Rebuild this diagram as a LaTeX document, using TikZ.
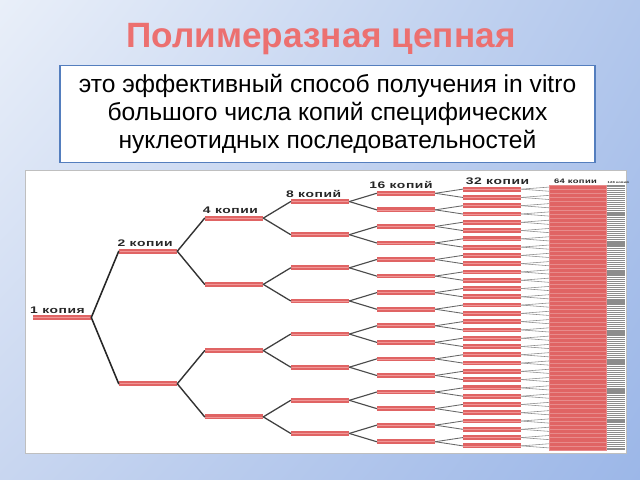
\documentclass[tikz,border=0pt]{standalone}
\usepackage{fontspec}
\setmainfont{Liberation Sans}
\newfontfamily\lblfont{Liberation Sans}[FakeStretch=1.45, LetterSpace=6]
\usetikzlibrary{positioning, shadings}

\definecolor{bgtl}{RGB}{233,239,249}
\definecolor{bgtr}{RGB}{178,199,236}
\definecolor{bgbl}{RGB}{200,214,240}
\definecolor{bgbr}{RGB}{156,183,232}
\definecolor{titlered}{RGB}{236,112,112}
\definecolor{boxblue}{RGB}{84,126,190}
\definecolor{barred}{RGB}{224,100,100}
\definecolor{barlight}{RGB}{240,150,150}

\begin{document}
\begin{tikzpicture} [ x=0.025cm
                    , y=-0.025cm
                    , bar/.style={ fill=barred, inner sep=0pt
                                 , minimum width=1.45cm, minimum height=0.12cm
                                 , path picture={\draw [barlight, line width=0.45pt]
                                     (path picture bounding box.west) -- (path picture bounding box.east);}
                                 }
                    , bigbar/.style={ fill=barred, draw=barred!75!white, line width=0.15pt
                                    , inner sep=0pt, minimum width=1.425cm, minimum height=0.1035cm}
                    , tailbar/.style={fill=black!45, inner sep=0pt, minimum width=0.45cm, minimum height=0.03cm}
                    , conn/.style={line cap=round}
                    , lbl/.style={inner sep=0pt, text=black!85}
                    , defbox/.style={ draw=boxblue, line width=1pt, fill=white
                                    , minimum width=13.375cm, minimum height=2.425cm
                                    , align=center, font=\fontsize{17.5}{19.8}\selectfont
                                    }
                    ]

  \useasboundingbox (0,0) rectangle (640,480);
  \shade [upper left=bgtl, upper right=bgtr, lower left=bgbl, lower right=bgbr]
    (0,0) rectangle (640,480);

  % --- Title and definition --------------------------------------------------
  \node [ anchor=base
        , text=titlered
        , font=\fontsize{25}{27}\selectfont\bfseries
        ]
        (title) at (321,47) {Полимеразная цепная};

  \node [ defbox
        ]
        (def) at (327.5,114) {это эффективный способ получения in vitro\\большого числа копий специфических\\нуклеотидных последовательностей};
  % ---------------------------------------------------------------------------

  % --- Copies tree -----------------------------------------------------------
  \path [fill=white, draw=black!25, line width=0.4pt] (25,170) rectangle (626,453);

  \foreach \lvl in {0,...,5}{
    \pgfmathtruncatemacro{\n}{2^\lvl}
    \pgfmathsetmacro{\s}{265/\n}
    \foreach \i in {1,...,\n}{
      \node [bar] (b\lvl-\i) at ({62+86*\lvl}, {317.5-(\n-1)/2*\s+(\i-1)*\s}) {};
    }
  }

  \foreach \i in {1,...,64}{
    \node [bigbar] (b6-\i) at (577.5, {317.5-31.5*4.14+(\i-1)*4.14}) {};
  }

  \foreach \i in {1,...,128}{
    \node [tailbar] (b7-\i) at (616, {317.5-63.5*2.07+(\i-1)*2.07}) {};
  }

  \foreach \lvl/\lw/\dk in {0/1.1/85, 1/1.0/80, 2/0.9/75, 3/0.8/70, 4/0.6/60, 5/0.4/45}{
    \pgfmathtruncatemacro{\nxt}{\lvl+1}
    \pgfmathtruncatemacro{\n}{2^\lvl}
    \foreach \i in {1,...,\n}{
      \pgfmathtruncatemacro{\ja}{2*\i-1}
      \pgfmathtruncatemacro{\jb}{2*\i}
      \draw [conn, line width=\lw pt, draw=black!\dk] (b\lvl-\i.east) -- (b\nxt-\ja.west);
      \draw [conn, line width=\lw pt, draw=black!\dk] (b\lvl-\i.east) -- (b\nxt-\jb.west);
    }
  }
  % ---------------------------------------------------------------------------

  % --- Labels ----------------------------------------------------------------
  \foreach \lvl/\txt/\dx/\fs in { 0/1 копия/-2/6.8
                                , 1/2 копии/-1/6.8
                                , 2/4 копии/-1.5/6.8
                                , 3/8 копий/-3.5/6.8
                                , 4/16 копий/-5.5/6.8
                                , 5/32 копии/2/6.8
                                , 6/64 копии/3.5/4.6
                                , 7/128 копий/0.5/2
                                }{
    \node [ lbl
          , above right=1pt and \dx pt of b\lvl-1.north west
          , font=\lblfont\bfseries\fontsize{\fs}{\fs}\selectfont
          ]
          (l\lvl) {\txt};
  }
  % ---------------------------------------------------------------------------
\end{tikzpicture}
\end{document}
